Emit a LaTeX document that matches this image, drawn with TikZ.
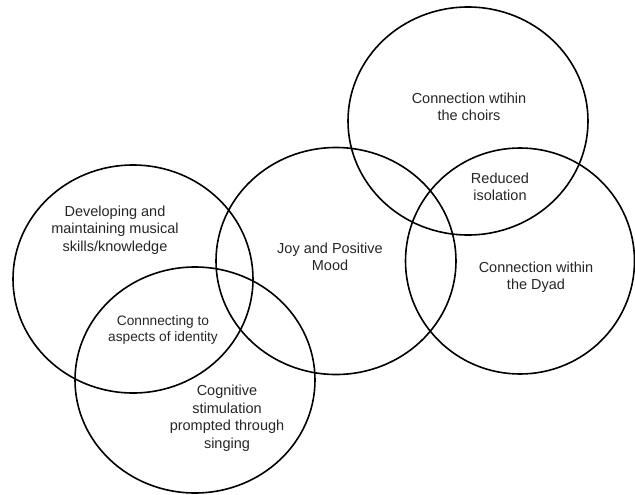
\documentclass[tikz,border=0pt]{standalone}
\usepackage{fontspec}
\setmainfont{Liberation Sans}
\usetikzlibrary{shapes.geometric}

\begin{document}
\begin{tikzpicture}[
  x=1pt, y=-1pt,
  ring/.style={draw, ellipse, line width=1.6pt, minimum width=240pt, minimum height=227pt, inner sep=0pt},
  lbl/.style={align=center, text=black!85, font=\fontsize{14.5}{17.5}\selectfont, inner sep=1pt},
  small lbl/.style={lbl, font=\fontsize{13.7}{15.5}\selectfont}
]
\useasboundingbox (0,0) rectangle (635,495);
% circles
\node[ring, minimum height=228pt] (skills) at (133,279) {};
\node[ring, minimum height=226pt] (cognition) at (195,380) {};
\node[ring] (joy) at (336,261) {};
\node[ring, minimum height=228pt] (choirs) at (468,121) {};
\node[ring, minimum width=229pt, minimum height=226pt] (dyad) at (520,261) {};
% labels
\node[lbl] (skills-t) at (115,230) {Developing and\\maintaining musical\\skills/knowledge};
\node[small lbl] (identity-t) at (163,330) {Connnecting to\\aspects of identity};
\node[lbl] (cognition-t) at (227,418) {Cognitive\\stimulation\\prompted through\\singing};
\node[lbl] (joy-t) at (330,257) {Joy and Positive\\Mood};
\node[lbl] (choirs-t) at (469,107) {Connection wtihin\\the choirs};
\node[lbl] (isolation-t) at (500,187) {Reduced\\isolation};
\node[lbl] (dyad-t) at (536,277) {Connection within\\the Dyad};
\end{tikzpicture}
\end{document}
